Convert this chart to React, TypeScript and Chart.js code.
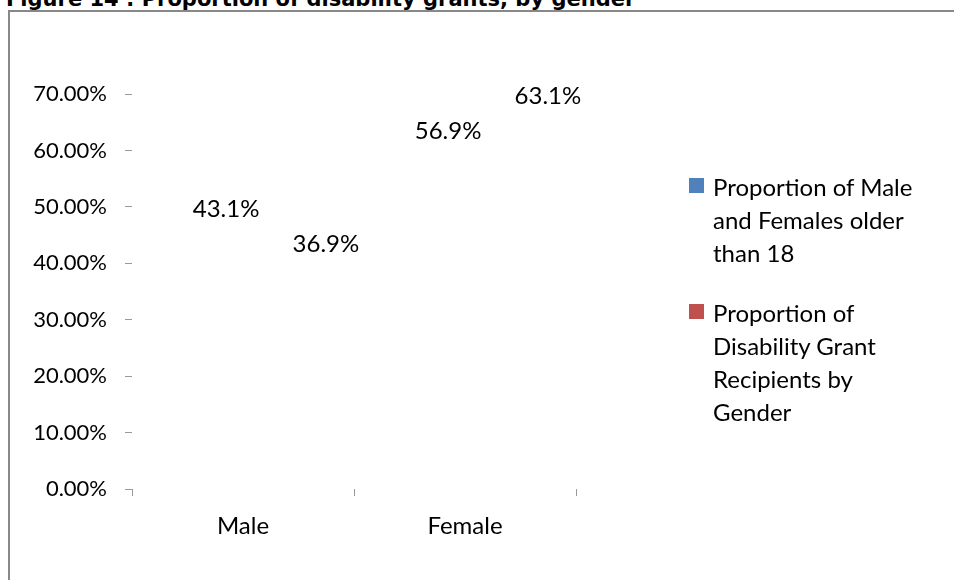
import React, { useEffect, useRef } from "react";
import { Chart, registerables } from "chart.js";

Chart.register(...registerables);

const categories = ["Male", "Female"];
const seriesNames = [
  "Proportion of Male and Females older than 18",
  "Proportion of Disability Grant Recipients by Gender",
];
const adultShare = [43.1, 56.9];
const grantShare = [36.9, 63.1];
const legendLines = [
  ["Proportion of Male", "and Females older", "than 18"],
  ["Proportion of", "Disability Grant", "Recipients by", "Gender"],
];
const seriesColors = ["#4F81BD", "#C0504D"];
const yMax = 70;
const yStep = 10;

const FONT = "Lato, 'Open Sans', sans-serif";

const labelPlugin = {
  id: "valueLabels",
  afterDatasetsDraw(chart: any) {
    const ctx = chart.ctx;
    ctx.save();
    ctx.font = `24px ${FONT}`;
    ctx.fillStyle = "#000";
    ctx.textAlign = "center";
    ctx.textBaseline = "middle";
    chart.data.datasets.forEach((ds: any, i: number) => {
      const meta = chart.getDatasetMeta(i);
      meta.data.forEach((bar: any, j: number) => {
        const v = ds.data[j];
        ctx.fillText(`${v.toFixed(1)}%`, bar.x + 33, bar.y - 37);
      });
    });
    ctx.restore();
  },
};

export default function App() {
  const ref = useRef<HTMLCanvasElement>(null);
  useEffect(() => {
    if (!ref.current) return;
    const chart = new Chart(ref.current, {
      type: "bar",
      data: {
        labels: categories,
        datasets: [
          { label: seriesNames[0], data: adultShare, backgroundColor: "rgba(0,0,0,0)", borderWidth: 0 },
          { label: seriesNames[1], data: grantShare, backgroundColor: "rgba(0,0,0,0)", borderWidth: 0 },
        ],
      },
      options: {
        responsive: false,
        animation: false,
        layout: { padding: { top: 94, right: 378, left: 0, bottom: 0 } },
        plugins: { legend: { display: false }, tooltip: { enabled: false } },
        datasets: { bar: { categoryPercentage: 0.9, barPercentage: 1 } } as any,
        scales: {
          x: {
            grid: { drawOnChartArea: false, drawTicks: true, tickLength: 7, color: "#999", offset: true },
            border: { display: false },
            ticks: { color: "#000", font: { family: FONT, size: 24 }, padding: 16 },
            afterFit: (s: any) => { s.height = 91; },
          },
          y: {
            min: 0,
            max: yMax,
            grid: { drawOnChartArea: false, drawTicks: true, tickLength: 7, color: "#999" },
            border: { display: false },
            ticks: {
              stepSize: yStep,
              color: "#000",
              font: { family: FONT, size: 22 },
              padding: 18,
              callback: (v: any) => `${Number(v).toFixed(2)}%`,
            },
            afterFit: (s: any) => { s.width = 132; },
          },
        },
      },
      plugins: [labelPlugin],
    });
    return () => chart.destroy();
  }, []);

  return (
    <div style={{ position: "fixed", left: 0, top: 0, width: 954, height: 580, overflow: "hidden", background: "#fff" }}>
      <div
        style={{
          position: "absolute", left: 6, top: -13.5, whiteSpace: "nowrap",
          font: `bold 21px 'DejaVu Sans', sans-serif`, lineHeight: "24px", color: "#000",
        }}
      >
        Figure 14 : Proportion of disability grants, by gender
      </div>
      <div
        style={{
          position: "absolute", left: 8, top: 10, width: 980, height: 620,
          border: "2px solid #888", boxSizing: "border-box",
        }}
      />
      <canvas ref={ref} width={954} height={580} style={{ position: "absolute", left: 0, top: 0, display: "block" }} />
      {legendLines.map((lines, i) => (
        <div key={i} style={{ position: "absolute", left: 689, top: i === 0 ? 170 : 296 }}>
          <div style={{ position: "absolute", left: 0, top: 8, width: 15, height: 15, background: seriesColors[i] }} />
          <div style={{ marginLeft: 24, font: `24px ${FONT}`, lineHeight: "33px", color: "#000", whiteSpace: "nowrap" }}>
            {lines.map((l, k) => (
              <div key={k}>{l}</div>
            ))}
          </div>
        </div>
      ))}
    </div>
  );
}
